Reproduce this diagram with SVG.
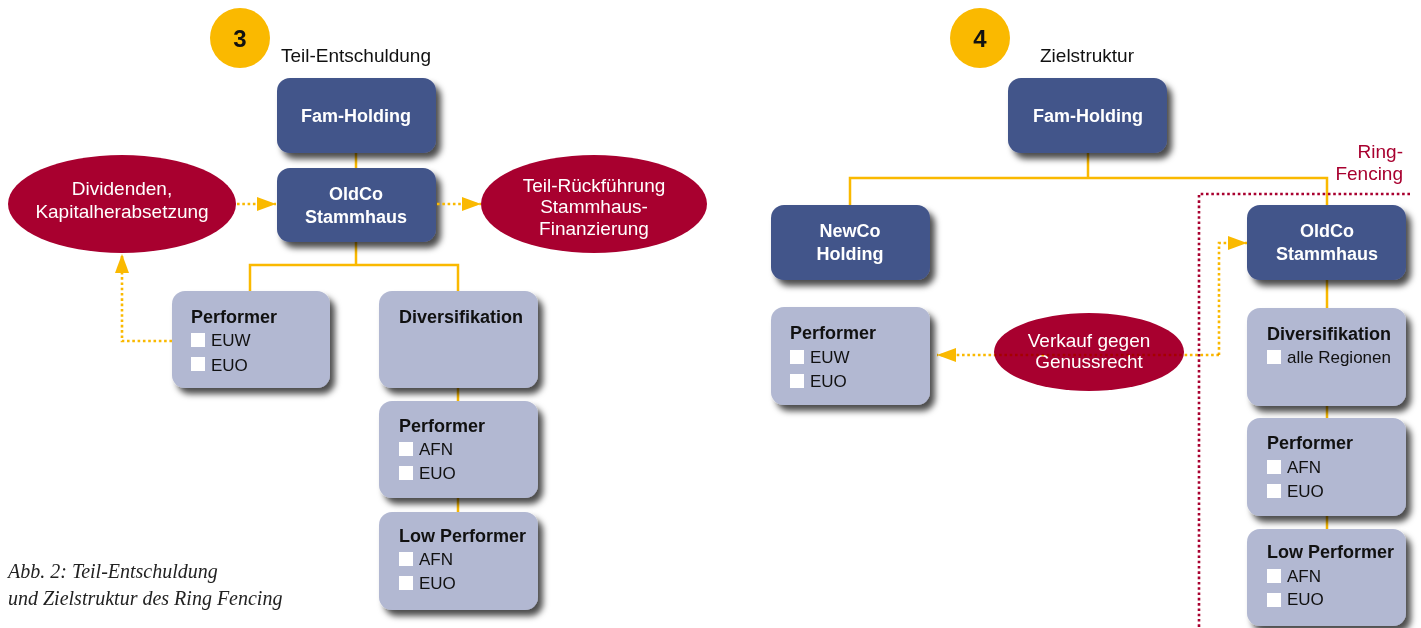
<svg xmlns="http://www.w3.org/2000/svg" width="1421" height="628" viewBox="0 0 1421 628">
  <defs>
    <filter id="shadow" x="-10%" y="-10%" width="130%" height="140%">
      <feDropShadow dx="5" dy="6" stdDeviation="3.2" flood-color="#000" flood-opacity="0.7"/>
    </filter>
    <marker id="arrow" markerWidth="19" markerHeight="14" refX="19" refY="7" orient="auto" markerUnits="userSpaceOnUse">
      <path d="M0,0 L19,7 L0,14 Z" fill="#FAB900"/>
    </marker>
    <style>
      text { font-family: "Liberation Sans", Arial, sans-serif; }
      .dark { fill: #43548A; filter: url(#shadow); }
      .light { fill: #B2B8D2; filter: url(#shadow); }
      .oval { fill: #A8002F; }
      .badge { fill: #FAB900; }
      .num { font-size: 24px; font-weight: bold; fill: #111; text-anchor: middle; }
      .title { font-size: 19px; fill: #111; }
      .dlabel { font-size: 18px; font-weight: bold; fill: #fff; text-anchor: middle; }
      .olabel { font-size: 19px; fill: #fff; text-anchor: middle; }
      .head { font-size: 18px; font-weight: bold; fill: #111; }
      .item { font-size: 17px; fill: #111; }
      .box { fill: #fff; }
      .line { fill: none; stroke: #FAB900; stroke-width: 2.5; }
      .dots { fill: none; stroke: #FAB900; stroke-width: 2.6; stroke-dasharray: 2.6 2.7; }
      .fence { fill: none; stroke: #A8002F; stroke-width: 2.6; stroke-dasharray: 2.6 2.7; }
      .fencetext { font-size: 19px; fill: #A8002F; text-anchor: end; }
      .caption { font-family: "Liberation Serif", "Times New Roman", serif; font-style: italic; font-size: 20px; fill: #222; }
    </style>
  </defs>

  <!-- solid tree connectors (drawn under the boxes) -->
  <g id="connectors">
    <path class="line" d="M356,153 V265 M250,291 V265 H458 V512"/>
    <path class="line" d="M1088,153 V178 M850,205 V178 H1327 V529"/>
  </g>

  <!-- left panel: step 3 -->
  <g id="badge-3">
    <circle class="badge" cx="240" cy="38" r="30"/>
    <text class="num" x="240" y="47">3</text>
  </g>
  <text class="title" x="281" y="62">Teil-Entschuldung</text>

  <g id="fam-holding-3">
    <rect class="dark" x="277" y="78" width="159" height="75" rx="13"/>
    <text class="dlabel" x="356" y="122">Fam-Holding</text>
  </g>
  <g id="oldco-3">
    <rect class="dark" x="277" y="168" width="159" height="74" rx="13"/>
    <text class="dlabel" x="356" y="200">OldCo</text>
    <text class="dlabel" x="356" y="223">Stammhaus</text>
  </g>
  <g id="dividenden">
    <ellipse class="oval" cx="122" cy="204" rx="114" ry="49"/>
    <text class="olabel" x="122" y="195" font-size="20">Dividenden,</text>
    <text class="olabel" x="122" y="218" font-size="20">Kapitalherabsetzung</text>
  </g>
  <g id="rueckfuehrung">
    <ellipse class="oval" cx="594" cy="204" rx="113" ry="49"/>
    <text class="olabel" x="594" y="192">Teil-Rückführung</text>
    <text class="olabel" x="594" y="213">Stammhaus-</text>
    <text class="olabel" x="594" y="235">Finanzierung</text>
  </g>
  <g id="performer-3a">
    <rect class="light" x="172" y="291" width="158" height="97" rx="13"/>
    <text class="head" x="191" y="323">Performer</text>
    <rect class="box" x="191" y="333" width="14" height="14"/>
    <text class="item" x="211" y="346">EUW</text>
    <rect class="box" x="191" y="357" width="14" height="14"/>
    <text class="item" x="211" y="371">EUO</text>
  </g>
  <g id="diversifikation-3">
    <rect class="light" x="379" y="291" width="159" height="97" rx="13"/>
    <text class="head" x="399" y="323">Diversifikation</text>
  </g>
  <g id="performer-3b">
    <rect class="light" x="379" y="401" width="159" height="97" rx="13"/>
    <text class="head" x="399" y="432">Performer</text>
    <rect class="box" x="399" y="442" width="14" height="14"/>
    <text class="item" x="419" y="455">AFN</text>
    <rect class="box" x="399" y="466" width="14" height="14"/>
    <text class="item" x="419" y="479">EUO</text>
  </g>
  <g id="lowperformer-3">
    <rect class="light" x="379" y="512" width="159" height="98" rx="13"/>
    <text class="head" x="399" y="542">Low Performer</text>
    <rect class="box" x="399" y="552" width="14" height="14"/>
    <text class="item" x="419" y="565">AFN</text>
    <rect class="box" x="399" y="576" width="14" height="14"/>
    <text class="item" x="419" y="589">EUO</text>
  </g>

  <!-- right panel: step 4 -->
  <g id="badge-4">
    <circle class="badge" cx="980" cy="38" r="30"/>
    <text class="num" x="980" y="47">4</text>
  </g>
  <text class="title" x="1040" y="62">Zielstruktur</text>

  <g id="fam-holding-4">
    <rect class="dark" x="1008" y="78" width="159" height="75" rx="13"/>
    <text class="dlabel" x="1088" y="122">Fam-Holding</text>
  </g>
  <g id="newco-4">
    <rect class="dark" x="771" y="205" width="159" height="75" rx="13"/>
    <text class="dlabel" x="850" y="237">NewCo</text>
    <text class="dlabel" x="850" y="260">Holding</text>
  </g>
  <g id="oldco-4">
    <rect class="dark" x="1247" y="205" width="159" height="75" rx="13"/>
    <text class="dlabel" x="1327" y="237">OldCo</text>
    <text class="dlabel" x="1327" y="260">Stammhaus</text>
  </g>
  <g id="performer-4a">
    <rect class="light" x="771" y="307" width="159" height="98" rx="13"/>
    <text class="head" x="790" y="339">Performer</text>
    <rect class="box" x="790" y="350" width="14" height="14"/>
    <text class="item" x="810" y="363">EUW</text>
    <rect class="box" x="790" y="374" width="14" height="14"/>
    <text class="item" x="810" y="387">EUO</text>
  </g>
  <g id="diversifikation-4">
    <rect class="light" x="1247" y="308" width="159" height="98" rx="13"/>
    <text class="head" x="1267" y="340">Diversifikation</text>
    <rect class="box" x="1267" y="350" width="14" height="14"/>
    <text class="item" x="1287" y="363">alle Regionen</text>
  </g>
  <g id="performer-4b">
    <rect class="light" x="1247" y="418" width="159" height="98" rx="13"/>
    <text class="head" x="1267" y="449">Performer</text>
    <rect class="box" x="1267" y="460" width="14" height="14"/>
    <text class="item" x="1287" y="473">AFN</text>
    <rect class="box" x="1267" y="484" width="14" height="14"/>
    <text class="item" x="1287" y="497">EUO</text>
  </g>
  <g id="lowperformer-4">
    <rect class="light" x="1247" y="529" width="159" height="97" rx="13"/>
    <text class="head" x="1267" y="558">Low Performer</text>
    <rect class="box" x="1267" y="569" width="14" height="14"/>
    <text class="item" x="1287" y="582">AFN</text>
    <rect class="box" x="1267" y="593" width="14" height="14"/>
    <text class="item" x="1287" y="605">EUO</text>
  </g>
  <g id="verkauf">
    <ellipse class="oval" cx="1089" cy="352" rx="95" ry="39"/>
    <text class="olabel" x="1089" y="347">Verkauf gegen</text>
    <text class="olabel" x="1089" y="368">Genussrecht</text>
  </g>

  <!-- ring-fencing boundary -->
  <g id="ring-fencing">
    <path class="fence" d="M1410,194 H1199 V628"/>
    <text class="fencetext" x="1403" y="158">Ring-</text>
    <text class="fencetext" x="1403" y="180">Fencing</text>
  </g>

  <!-- dotted flow arrows -->
  <g id="flows">
    <path class="dots" d="M237,204 H276" marker-end="url(#arrow)"/>
    <path class="dots" d="M437,204 H481" marker-end="url(#arrow)"/>
    <path class="dots" d="M172,341 H122 V254" marker-end="url(#arrow)"/>
    <path class="dots" d="M1219,355 V243 H1247" marker-end="url(#arrow)"/>
    <path class="dots" d="M1219,355 H937" marker-end="url(#arrow)" style="mix-blend-mode:multiply"/>
  </g>

  <text class="caption" x="8" y="578">Abb. 2: Teil-Entschuldung</text>
  <text class="caption" x="8" y="605">und Zielstruktur des Ring Fencing</text>
</svg>
